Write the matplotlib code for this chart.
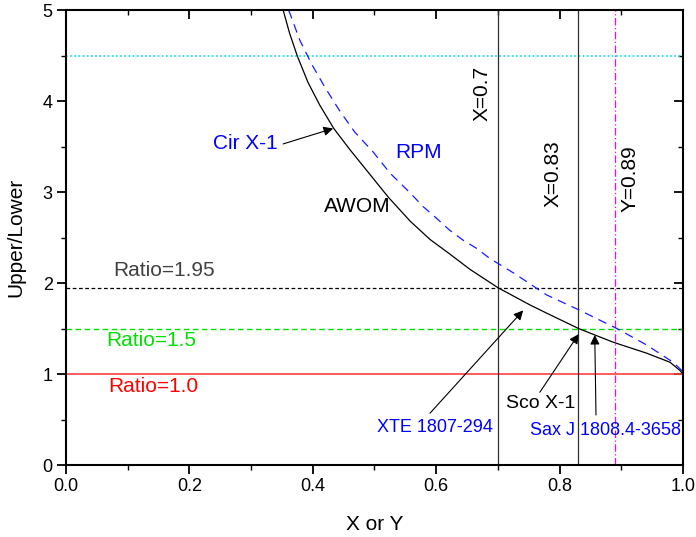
import matplotlib
matplotlib.use("Agg")
import matplotlib.pyplot as plt
import matplotlib.lines as mlines
from matplotlib.ticker import MultipleLocator, FormatStrFormatter

plt.rcParams['font.family'] = ['Liberation Sans', 'DejaVu Sans']

# AWOM curve (black solid)
awom_x = [0.352, 0.3625, 0.375, 0.392, 0.411, 0.434, 0.461, 0.492, 0.523, 0.558,
          0.590, 0.622, 0.655, 0.70, 0.752, 0.779, 0.831, 0.887, 0.941, 0.979,
          0.995, 1.0]
awom_y = [5.0, 4.745, 4.495, 4.21, 3.96, 3.70, 3.46, 3.20, 2.94, 2.68,
          2.48, 2.32, 2.15, 1.95, 1.76, 1.67, 1.50, 1.35, 1.23, 1.13,
          1.04, 1.0]

# RPM curve (blue dashed)
rpm_x = [0.361, 0.379, 0.398, 0.419, 0.443, 0.468, 0.498, 0.525, 0.558, 0.579,
         0.601, 0.622, 0.644, 0.666, 0.687, 0.709, 0.728, 0.779, 0.833, 0.893,
         0.941, 0.984, 0.998, 1.0]
rpm_y = [5.0, 4.67, 4.41, 4.16, 3.90, 3.66, 3.44, 3.21, 2.99, 2.84,
         2.71, 2.58, 2.47, 2.38, 2.27, 2.18, 2.10, 1.87, 1.70, 1.50,
         1.32, 1.13, 1.04, 1.0]

# reference lines
ratio_levels = [1.95, 1.5, 1.0]
ratio_labels = ["Ratio=1.95", "Ratio=1.5", "Ratio=1.0"]
cyan_level = 4.5
x_marks = [0.7, 0.83]
x_mark_labels = ["X=0.7", "X=0.83"]
y_mark = 0.89
y_mark_label = "Y=0.89"

# sources: name, text pos, arrow tail, arrow tip, colour, size
sources = [
    ("Cir X-1", (0.29, 3.53), (0.352, 3.53), (0.433, 3.70), 'blue', 15),
    ("XTE 1807-294", (0.598, 0.41), (0.59, 0.57), (0.741, 1.70), 'blue', 13),
    ("Sco X-1", (0.77, 0.68), (0.768, 0.80), (0.831, 1.44), 'black', 14),
    ("Sax J 1808.4-3658", (0.874, 0.38), (0.859, 0.55), (0.857, 1.43), 'blue', 13),
]

fig = plt.figure(figsize=(6.96, 5.37), dpi=100)
ax = fig.add_axes([0.0948, 0.134, 0.8865, 0.847])

# horizontal lines
ax.axhline(cyan_level, color='#00e0e8', lw=1.2, ls=(0, (1, 1.5)))
ax.axhline(ratio_levels[0], color='black', lw=0.9, ls=(0, (3, 2)))
ax.axhline(ratio_levels[1], color='#00e000', lw=1.0, ls=(0, (4, 2.5)))
ax.axhline(ratio_levels[2], color='#ff4040', lw=1.2)

# vertical lines
for xm in x_marks:
    ax.axvline(xm, color='#303030', lw=0.9)
ax.axvline(y_mark, color='#ff00ff', lw=0.9, ls=(0, (6, 2, 1, 2)))

# curves
ax.plot(awom_x, awom_y, color='black', lw=0.9)
ax.plot(rpm_x, rpm_y, color='#1a1aff', lw=0.9, ls=(0, (7, 5)))

# labels
ax.text(0.472, 2.84, "AWOM", fontsize=15, ha='center', va='center')
ax.text(0.571, 3.44, "RPM", fontsize=15, color='blue', ha='center', va='center')
ax.text(0.159, 2.14, ratio_labels[0], fontsize=15, color='#404040', ha='center', va='center')
ax.text(0.138, 1.37, ratio_labels[1], fontsize=15, color='#00e000', ha='center', va='center')
ax.text(0.142, 0.86, ratio_labels[2], fontsize=15, color='red', ha='center', va='center')
ax.text(0.674, 4.08, x_mark_labels[0], fontsize=15, rotation=90, ha='center', va='center')
ax.text(0.79, 3.2, x_mark_labels[1], fontsize=15, rotation=90, ha='center', va='center')
ax.text(0.914, 3.15, y_mark_label, fontsize=15, rotation=90, ha='center', va='center')

for name, tpos, tail, tip, col, fs in sources:
    ax.text(tpos[0], tpos[1], name, fontsize=fs, color=col, ha='center', va='center')
    ax.annotate("", xy=tip, xytext=tail,
                arrowprops=dict(arrowstyle='-|>', color='black', lw=0.8,
                                mutation_scale=14, shrinkA=0, shrinkB=0))

ax.set_xlim(0, 1)
ax.set_ylim(0, 5)
ax.xaxis.set_major_locator(MultipleLocator(0.2))
ax.xaxis.set_minor_locator(MultipleLocator(0.1))
ax.yaxis.set_major_locator(MultipleLocator(1))
ax.yaxis.set_minor_locator(MultipleLocator(0.5))
ax.xaxis.set_major_formatter(FormatStrFormatter('%.1f'))
ax.yaxis.set_major_formatter(FormatStrFormatter('%d'))
ax.tick_params(axis='both', which='major', direction='out', length=6.5, width=1.3,
               labelsize=13, pad=3, top=True, right=True)
ax.tick_params(axis='both', which='minor', direction='out', length=3.5, width=1.0,
               top=True, right=True)
for sp in ax.spines.values():
    sp.set_linewidth(1.5)

ax.set_xlabel("X or Y", fontsize=15)
ax.set_ylabel("Upper/Lower", fontsize=15)
ax.xaxis.set_label_coords(0.5, -0.11)
ax.yaxis.set_label_coords(-0.066, 0.5)

# top and right ticks point inward
fig.canvas.draw()
for t in ax.xaxis.get_major_ticks() + ax.xaxis.get_minor_ticks():
    t.tick2line.set_marker(mlines.TICKDOWN)
for t in ax.yaxis.get_major_ticks() + ax.yaxis.get_minor_ticks():
    t.tick2line.set_marker(mlines.TICKLEFT)

fig.savefig("out.png", dpi=100)
